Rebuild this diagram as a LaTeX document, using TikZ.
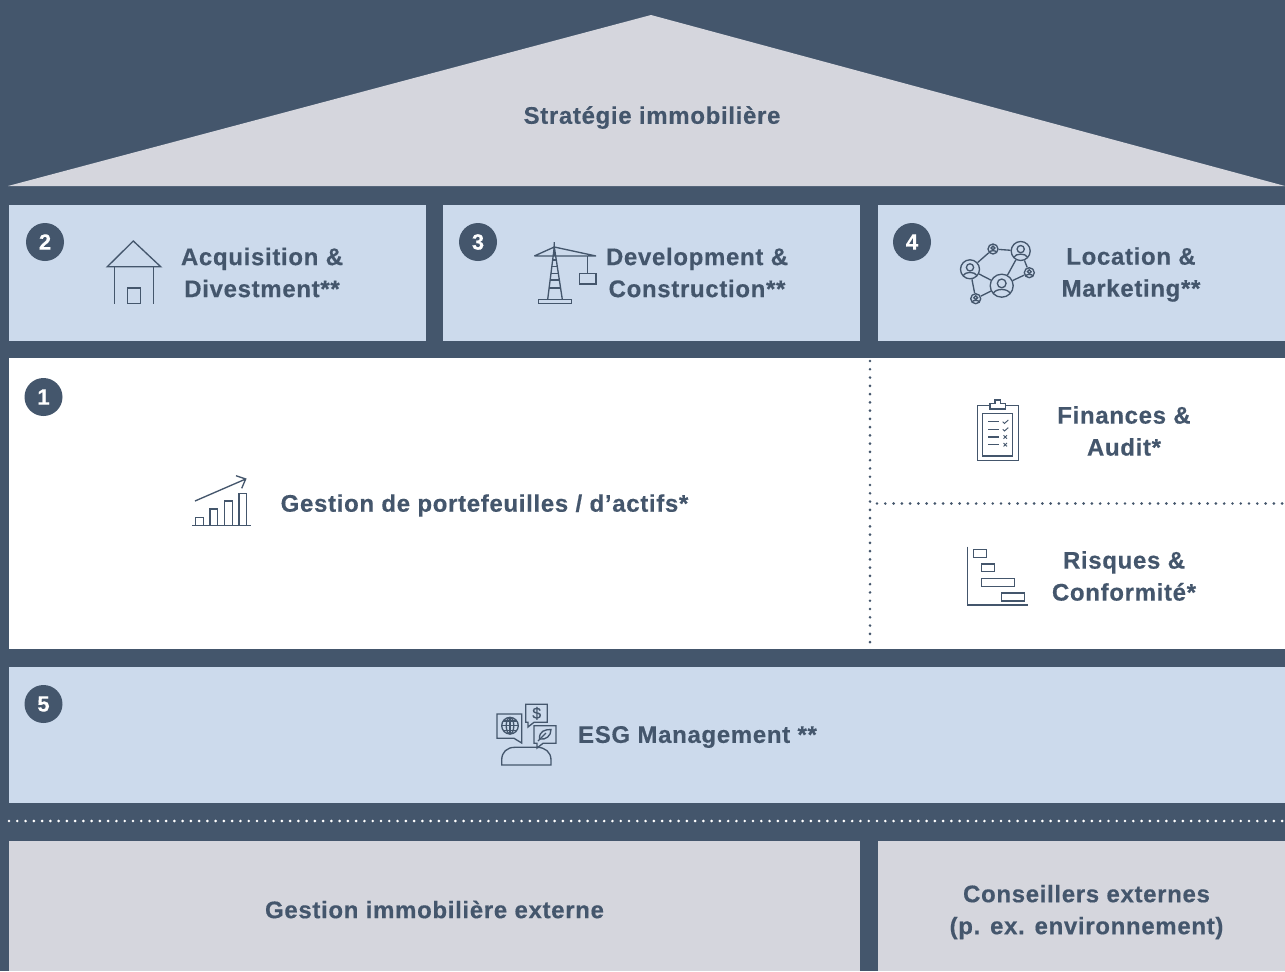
\documentclass[tikz,border=0pt]{standalone}
\usepackage{fontspec}
\setmainfont[LetterSpace=2.8,FakeBold=0.4]{Liberation Sans}
\definecolor{navy}{HTML}{44566C}
\definecolor{lightblue}{HTML}{CCDAEC}
\definecolor{lightgrey}{HTML}{D5D6DD}
\tikzset{
  label text/.style = {align=center,font=\fontsize{18pt}{24pt}\selectfont\bfseries,text=navy,inner sep=0pt},
  badge/.style = {circle,fill=navy,text=white,minimum size=28.5pt,inner sep=0pt,font=\fontsize{16.5pt}{16.5pt}\selectfont\bfseries},
  icon line/.style = {draw=navy,line width=1pt},
  net dot/.style = {circle,draw=navy,line width=1pt,inner sep=0pt},
  dotted rule/.style = {line width=2.2pt,line cap=round,dash pattern=on 0pt off 6.2pt}
}
\newcommand{\netperson}[3]{
  \draw[icon line] (#1,#2-0.2*#3) circle ({0.38*#3});
  \draw[icon line] (#1-0.72*#3,#2+0.66*#3) .. controls (#1-0.55*#3,#2+0.22*#3) and (#1+0.55*#3,#2+0.22*#3) .. (#1+0.72*#3,#2+0.66*#3);
}
\begin{document}
\begin{tikzpicture}[x=0.75pt,y=-0.75pt]
        \useasboundingbox (0,0) rectangle (1285,971);
        \fill[navy] (0,0) rectangle (1285,971);
        \fill[lightgrey] (8,186) -- (651,15) -- (1285,186) -- cycle;
        \fill[lightblue] (9,205) rectangle (426,341);
        \fill[lightblue] (443,205) rectangle (860,341);
        \fill[lightblue] (878,205) rectangle (1285,341);
        \fill[white] (9,358) rectangle (1285,649);
        \fill[lightblue] (9,667) rectangle (1285,803);
        \fill[lightgrey] (9,841) rectangle (860,971);
        \fill[lightgrey] (878,841) rectangle (1285,971);
        \draw[dotted rule,navy] (870,361) -- (870,652);
        \draw[dotted rule,navy] (877,503.5) -- (1285,503.5);
        \draw[dotted rule,white] (9,821) -- (1285,821);
        \node[label text] (strategy) at (652,117.5) {Stratégie immobilière};
        \node[label text] (acquisition) at (262,272.5) {Acquisition \&\\Divestment**};
        \node[label text] (development) at (697,272.5) {Development \&\\Construction**};
        \node[label text] (location) at (1131,274.5) {Location \&\\Marketing**};
        \node[label text] (portfolio) at (484.5,505.5) {Gestion de portefeuilles / d’actifs*};
        \node[label text] (finances) at (1124,431) {Finances \&\\Audit*};
        \node[label text] (risks) at (1124,576) {Risques \&\\Conformité*};
        \node[label text] (esg) at (697.5,737) {ESG Management **};
        \node[label text] (external) at (434.5,909.5) {Gestion immobilière externe};
        \node[label text] (advisors) at (1086.5,912) {Conseillers externes\\(p. ex. environnement)};
        \node[badge] (two) at (45,242) {2};
        \node[badge] (three) at (478,242) {3};
        \node[badge] (four) at (912,242) {4};
        \node[badge] (one) at (43.5,397) {1};
        \node[badge] (five) at (43.5,704) {5};
        % house
        \draw[icon line] (107.3,266.7) -- (133.3,241) -- (160.7,266.7) -- cycle;
        \draw[icon line] (114.7,266.7) -- (114.7,304) (153.3,266.7) -- (153.3,304);
        \draw[icon line] (127.3,288) rectangle (140.7,303.3);
        % crane
        \draw[icon line] (534.3,256) -- (596,256) (534.3,256) -- (554.3,247) -- (596,256) (554.3,242) -- (554.3,256);
        \draw[icon line] (547.7,299.3) -- (554.3,247) -- (562.3,299.3);
        \foreach \y/\w in {260/2.3,266.7/3.2,273.3/4,280/4.9,288/5.9}
            \draw[icon line] (554.6-\w,\y) -- (554.6+\w,\y);
        \draw[icon line] (538.3,299.3) rectangle (571.7,303.3);
        \draw[icon line] (587.7,256) -- (587.7,273.3);
        \draw[icon line] (579.3,273.3) rectangle (596,284);
        % network
        \node[net dot,minimum size=14.25pt] (neta) at (970,269.3) {};
        \node[net dot,minimum size=14.25pt] (netb) at (1020.7,251) {};
        \node[net dot,minimum size=17.25pt] (netc) at (1001.7,285.7) {};
        \node[net dot,minimum size=7.5pt] (netd) at (993,249) {};
        \node[net dot,minimum size=7.5pt] (nete) at (1029.3,272.7) {};
        \node[net dot,minimum size=7.5pt] (netf) at (975.7,298.7) {};
        \foreach \from/\to in {neta/netd,netd/netb,netb/netc,netb/nete,nete/netc,neta/netc,neta/netf,netf/netc}
            \draw[icon line] (\from) -- (\to);
        \netperson{970}{269.3}{9.5}
        \netperson{1020.7}{251}{9.5}
        \netperson{1001.7}{285.7}{11.5}
        \netperson{993}{249}{5}
        \netperson{1029.3}{272.7}{5}
        \netperson{975.7}{298.7}{5}
        % chart
        \draw[icon line] (192,525.7) -- (250.7,525.7);
        \foreach \a/\b/\t in {195.7/203.3/517.3,210/217.7/509,224.7/232.3/501,239/246.7/493.3}
            \draw[icon line] (\a,525.7) -- (\a,\t) -- (\b,\t) -- (\b,525.7);
        \draw[icon line] (195,501) -- (245.7,479) (236,475.7) -- (245.7,479) -- (241.7,488.3);
        % clipboard
        \draw[icon line] (977.3,405.7) rectangle (1018.3,460.7);
        \draw[icon line] (982.7,413.3) rectangle (1012.7,456);
        \draw[icon line,fill=white] (990,409) -- (990,403.3) -- (995,403.3) -- (995,400) -- (1000.7,400) -- (1000.7,403.3) -- (1005.7,403.3) -- (1005.7,409) -- cycle;
        \foreach \y in {421.7,429.3,437,444.7}
            \draw[icon line] (988.3,\y) -- (999,\y);
        \foreach \y in {421.7,429.3}
            \draw[navy,line width=0.7pt] (1002.7,\y) -- (1004.5,\y+1.7) -- (1008.3,\y-1.7);
        \foreach \y in {437,444.7}
            \draw[navy,line width=0.7pt] (1003.5,\y-1.7) -- (1007,\y+1.7) (1003.5,\y+1.7) -- (1007,\y-1.7);
        % gantt
        \draw[icon line] (967.7,546.7) -- (967.7,605) -- (1027.7,605);
        \draw[icon line] (973.3,549.3) rectangle (986.7,557.3);
        \draw[icon line] (981.3,564) rectangle (994.7,571.7);
        \draw[icon line] (981.3,578.3) rectangle (1014.7,586.3);
        \draw[icon line] (1001.3,593) rectangle (1024.7,601);
        % speech bubbles
        \draw[icon line] (497,714) -- (521.7,714) -- (521.7,743) -- (514,738.3) -- (497,738.3) -- cycle;
        \draw[icon line] (510,725.7) circle (8.3);
        \draw[icon line] (510,725.7) ellipse (3.8 and 8.3);
        \draw[icon line] (510,717.4) -- (510,734) (501.7,725.7) -- (518.3,725.7);
        \draw[icon line] (503,721) -- (517,721) (503,730.4) -- (517,730.4);
        \draw[icon line] (525.7,704.3) -- (547.3,704.3) -- (547.3,722.3) -- (534,722.3) -- (528,727) -- (528,722.3) -- (525.7,722.3) -- cycle;
        \node[font=\fontsize{12pt}{12pt}\selectfont,text=navy,inner sep=0pt] (dollar) at (536.7,713.3) {\$};
        \draw[icon line] (534,725.7) -- (556,725.7) -- (556,743.3) -- (543,743.3) -- (537,748) -- (537,743.3) -- (534,743.3) -- cycle;
        \draw[icon line] (539.5,739) .. controls (539,731) and (545,729.5) .. (551,729.5) .. controls (551,736) and (546,740) .. (539.5,739);
        \draw[icon line] (538,741) -- (546,733);
        \draw[icon line] (501.7,765) -- (551,765) -- (551,760) .. controls (551,752) and (545,747.3) .. (537,747.3) -- (515,747.3) .. controls (507,747.3) and (501.7,752) .. (501.7,760) -- cycle;
    \end{tikzpicture}
\end{document}
